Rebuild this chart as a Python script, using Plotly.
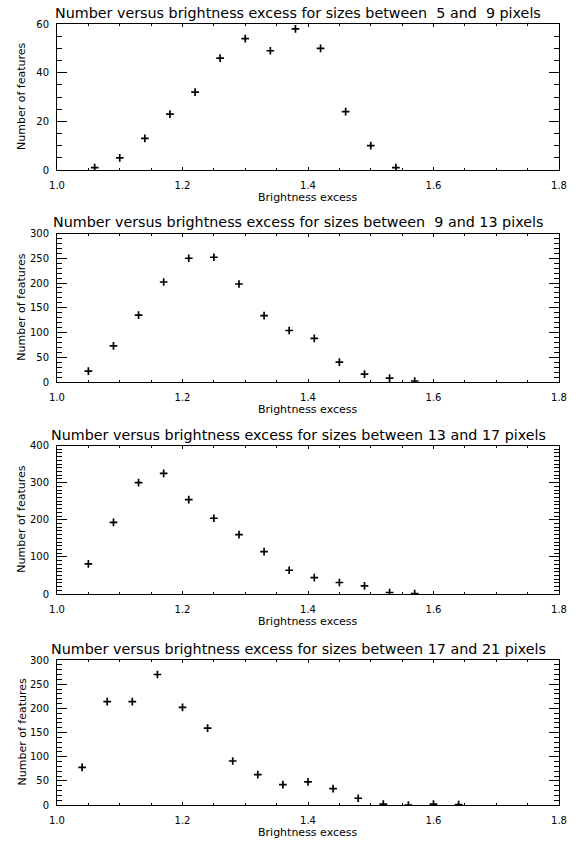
import plotly.graph_objects as go

W, H = 577, 841

# ---- data ----
titles = [
    "Number versus brightness excess for sizes between  5 and  9 pixels",
    "Number versus brightness excess for sizes between  9 and 13 pixels",
    "Number versus brightness excess for sizes between 13 and 17 pixels",
    "Number versus brightness excess for sizes between 17 and 21 pixels",
]
x1 = [1.06, 1.10, 1.14, 1.18, 1.22, 1.26, 1.30, 1.34, 1.38, 1.42, 1.46, 1.50, 1.54]
y1 = [1, 5, 13, 23, 32, 46, 54, 49, 58, 50, 24, 10, 1]
x2 = [1.05, 1.09, 1.13, 1.17, 1.21, 1.25, 1.29, 1.33, 1.37, 1.41, 1.45, 1.49, 1.53, 1.57]
y2 = [22, 73, 135, 202, 250, 252, 198, 134, 104, 88, 40, 16, 8, 2]
x3 = [1.05, 1.09, 1.13, 1.17, 1.21, 1.25, 1.29, 1.33, 1.37, 1.41, 1.45, 1.49, 1.53, 1.57]
y3 = [81, 193, 300, 325, 254, 204, 160, 114, 64, 44, 31, 22, 4, 1]
x4 = [1.04, 1.08, 1.12, 1.16, 1.20, 1.24, 1.28, 1.32, 1.36, 1.40, 1.44, 1.48, 1.52, 1.56, 1.60, 1.64]
y4 = [78, 214, 214, 270, 202, 159, 91, 63, 42, 48, 34, 14, 2, 0, 2, 1]

xs = [x1, x2, x3, x4]
ys = [y1, y2, y3, y4]
y_ranges = [[0, 60], [0, 300], [0, 400], [0, 300]]
y_dticks = [20, 50, 100, 50]
y_minor = [5, 10, 10, 10]
x_label = "Brightness excess"
y_label = "Number of features"

# ---- layout (pixels) ----
box_left, box_right = 57, 559
box_tops = [24, 233.5, 445.5, 660]
box_bottoms = [170, 382, 594, 805]

FONT = "DejaVu Sans"

def px(x):
    return x / W

def py(y):
    return 1 - y / H

fig = go.Figure()
layout = dict(
    width=W, height=H,
    margin=dict(l=0, r=0, t=0, b=0),
    paper_bgcolor="white", plot_bgcolor="white",
    showlegend=False,
    font=dict(family=FONT, size=10, color="black"),
)
annotations = []
for i in range(4):
    n = "" if i == 0 else str(i + 1)
    fig.add_trace(go.Scatter(
        x=xs[i], y=ys[i], mode="markers",
        xaxis="x" + n, yaxis="y" + n,
        marker=dict(symbol="cross-thin", size=5.5, color="black",
                    line=dict(width=1.7, color="black")),
        cliponaxis=True, hoverinfo="x+y",
    ))
    layout["xaxis" + n] = dict(
        domain=[px(box_left), px(box_right)], anchor="y" + n,
        range=[1.0, 1.8], dtick=0.2, tick0=1.0, tickformat=".1f",
        showgrid=False, zeroline=False,
        showline=True, linecolor="black", linewidth=1, mirror="ticks",
        ticks="inside", ticklen=3, tickwidth=1, tickcolor="black",
        minor=dict(dtick=0.05, tick0=1.0, ticks="inside", ticklen=2, tickcolor="black", showgrid=False),
        tickfont=dict(family=FONT, size=10, color="black"),
        ticklabelstandoff=6, automargin=False, fixedrange=True,
    )
    layout["yaxis" + n] = dict(
        domain=[py(box_bottoms[i]), py(box_tops[i])], anchor="x" + n,
        range=y_ranges[i], dtick=y_dticks[i], tick0=0,
        showgrid=False, zeroline=False,
        showline=True, linecolor="black", linewidth=1, mirror="ticks",
        ticks="inside", ticklen=10, tickwidth=1, tickcolor="black",
        minor=dict(dtick=y_minor[i], tick0=0, ticks="inside", ticklen=5, tickcolor="black", showgrid=False),
        tickfont=dict(family=FONT, size=10, color="black"),
        ticklabelstandoff=5, automargin=False, fixedrange=True,
    )
    annotations.append(dict(
        text=titles[i], xref="paper", yref="paper",
        x=px(298), y=py(box_tops[i] - 1), xanchor="center", yanchor="bottom",
        showarrow=False, font=dict(family=FONT, size=14.3, color="black"),
    ))
    annotations.append(dict(
        text=x_label, xref="paper", yref="paper",
        x=px(308), y=py(box_bottoms[i] + 27.5), xanchor="center", yanchor="middle",
        showarrow=False, font=dict(family=FONT, size=11, color="black"),
    ))
    annotations.append(dict(
        text=y_label, xref="paper", yref="paper", textangle=-90,
        x=px(22), y=py((box_tops[i] + box_bottoms[i]) / 2), xanchor="center", yanchor="middle",
        showarrow=False, font=dict(family=FONT, size=11, color="black"),
    ))
layout["annotations"] = annotations
fig.update_layout(**layout)
fig.write_html(
    "out.html",
    config={"displayModeBar": False},
    post_script="document.body.style.margin='0px';document.body.style.overflow='hidden';",
)
